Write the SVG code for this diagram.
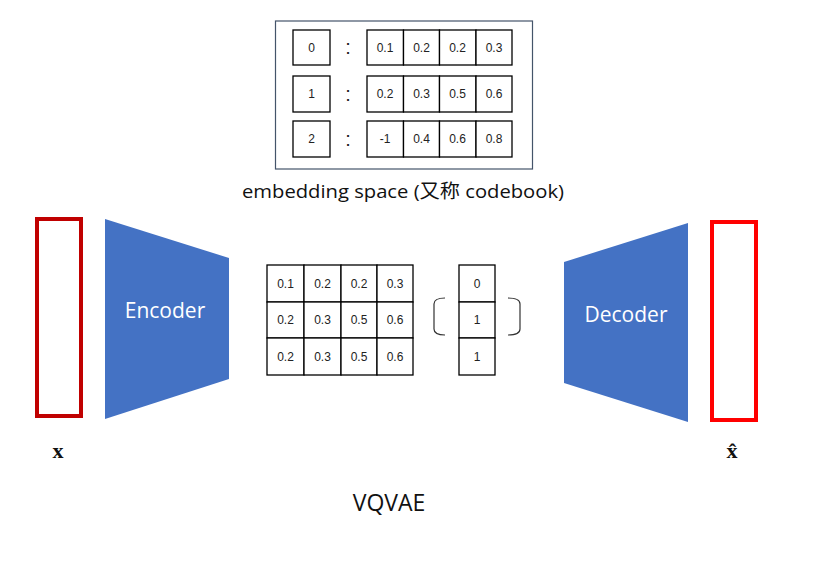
<svg xmlns="http://www.w3.org/2000/svg" width="826" height="561" viewBox="0 0 826 561">
<style>
.cell{fill:#fff;stroke:#000;stroke-width:1.3}
.t{font-family:"Liberation Sans",Arial,sans-serif;font-size:12px;fill:#222;text-anchor:middle;dominant-baseline:central}
.colon{font-family:"Liberation Sans",Arial,sans-serif;font-size:20px;fill:#222;text-anchor:middle}
.lbl{font-family:"Open Sans","Noto Sans","Noto Sans CJK SC",sans-serif;fill:#111;text-anchor:middle}
.net{fill:#4472C4}
.nt{font-family:"Open Sans","Noto Sans",sans-serif;font-size:21px;fill:#fff;text-anchor:middle}
.var{font-family:"Liberation Serif","Times New Roman",serif;font-size:22px;font-weight:bold;fill:#111;text-anchor:middle}
</style>
<rect width="826" height="561" fill="#fff"/>
<g id="codebook">
<rect x="275.5" y="21" width="257" height="148" fill="#fff" stroke="#44546A" stroke-width="1.2"/>
<g id="row0">
<rect class="cell" x="293" y="30" width="37" height="35"/><text class="t" x="311.5" y="47.5">0</text>
<text class="colon" x="348" y="54">:</text>
<rect class="cell" x="367" y="30" width="36.5" height="35"/><text class="t" x="385" y="47.5">0.1</text>
<rect class="cell" x="403.5" y="30" width="36" height="35"/><text class="t" x="421.5" y="47.5">0.2</text>
<rect class="cell" x="439.5" y="30" width="36.5" height="35"/><text class="t" x="457.5" y="47.5">0.2</text>
<rect class="cell" x="476" y="30" width="36" height="35"/><text class="t" x="494" y="47.5">0.3</text>
</g>
<g id="row1">
<rect class="cell" x="293" y="76" width="37" height="36"/><text class="t" x="311.5" y="94">1</text>
<text class="colon" x="348" y="101">:</text>
<rect class="cell" x="367" y="76" width="36.5" height="36"/><text class="t" x="385" y="94">0.2</text>
<rect class="cell" x="403.5" y="76" width="36" height="36"/><text class="t" x="421.5" y="94">0.3</text>
<rect class="cell" x="439.5" y="76" width="36.5" height="36"/><text class="t" x="457.5" y="94">0.5</text>
<rect class="cell" x="476" y="76" width="36" height="36"/><text class="t" x="494" y="94">0.6</text>
</g>
<g id="row2">
<rect class="cell" x="293" y="121" width="37" height="36"/><text class="t" x="311.5" y="139">2</text>
<text class="colon" x="348" y="146">:</text>
<rect class="cell" x="367" y="121" width="36.5" height="36"/><text class="t" x="385" y="139">-1</text>
<rect class="cell" x="403.5" y="121" width="36" height="36"/><text class="t" x="421.5" y="139">0.4</text>
<rect class="cell" x="439.5" y="121" width="36.5" height="36"/><text class="t" x="457.5" y="139">0.6</text>
<rect class="cell" x="476" y="121" width="36" height="36"/><text class="t" x="494" y="139">0.8</text>
</g>
</g>
<text id="codebook-label" class="lbl" x="403" y="198" font-size="19" textLength="322" lengthAdjust="spacingAndGlyphs">embedding space (又称 codebook)</text>
<g id="input-x">
<rect x="37" y="219" width="44" height="197" fill="none" stroke="#C00000" stroke-width="4"/>
</g>
<text class="var" x="58" y="458">x</text>
<g id="encoder">
<polygon class="net" points="105,219 229,258 229,379 105,419"/>
<text class="nt" x="165" y="318">Encoder</text>
</g>
<g id="latent">
<rect class="cell" x="267" y="265" width="37" height="37"/><text class="t" x="285.5" y="283.5">0.1</text>
<rect class="cell" x="304" y="265" width="37" height="37"/><text class="t" x="322.5" y="283.5">0.2</text>
<rect class="cell" x="341" y="265" width="36" height="37"/><text class="t" x="359" y="283.5">0.2</text>
<rect class="cell" x="377" y="265" width="36" height="37"/><text class="t" x="395" y="283.5">0.3</text>
<rect class="cell" x="267" y="302" width="37" height="36"/><text class="t" x="285.5" y="320">0.2</text>
<rect class="cell" x="304" y="302" width="37" height="36"/><text class="t" x="322.5" y="320">0.3</text>
<rect class="cell" x="341" y="302" width="36" height="36"/><text class="t" x="359" y="320">0.5</text>
<rect class="cell" x="377" y="302" width="36" height="36"/><text class="t" x="395" y="320">0.6</text>
<rect class="cell" x="267" y="338" width="37" height="37"/><text class="t" x="285.5" y="356.5">0.2</text>
<rect class="cell" x="304" y="338" width="37" height="37"/><text class="t" x="322.5" y="356.5">0.3</text>
<rect class="cell" x="341" y="338" width="36" height="37"/><text class="t" x="359" y="356.5">0.5</text>
<rect class="cell" x="377" y="338" width="36" height="37"/><text class="t" x="395" y="356.5">0.6</text>
</g>
<g id="indices">
<rect class="cell" x="459" y="265" width="36" height="37"/><text class="t" x="477" y="283.5">0</text>
<rect class="cell" x="459" y="302" width="36" height="36"/><text class="t" x="477" y="320">1</text>
<rect class="cell" x="459" y="338" width="36" height="37"/><text class="t" x="477" y="356.5">1</text>
<path d="M445,298 Q434,298 434,304 L434,329 Q434,335 445,335" fill="none" stroke="#333" stroke-width="1.2"/>
<path d="M508,298 Q520,298 520,304 L520,329 Q520,335 508,335" fill="none" stroke="#333" stroke-width="1.2"/>
</g>
<g id="decoder">
<polygon class="net" points="564,262 688,223 688,422 564,383"/>
<text class="nt" x="626" y="322">Decoder</text>
</g>
<g id="output-xhat">
<rect x="712" y="222" width="44" height="198" fill="none" stroke="#FF0000" stroke-width="4"/>
</g>
<text class="var" x="732" y="458">x̂</text>
<text id="title" class="lbl" x="389" y="511" font-size="23">VQVAE</text>
<g id="connectors"></g>
</svg>
